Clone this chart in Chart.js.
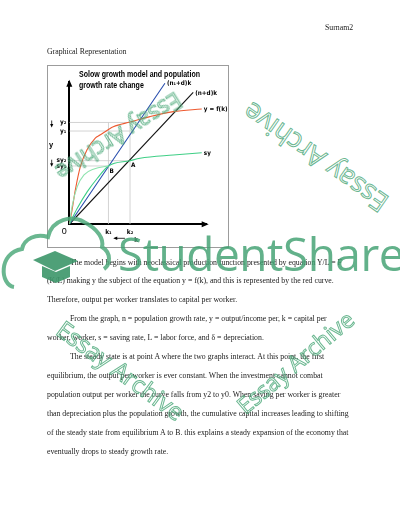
<!DOCTYPE html>
<html>
<head>
<meta charset="utf-8">
<script src="https://cdn.jsdelivr.net/npm/chart.js@4.4.1/dist/chart.umd.min.js"></script>
<style>
  html, body { margin: 0; padding: 0; background: #fff; }
  #page { position: relative; width: 400px; height: 517px; overflow: hidden; background: #fff; }
  .t { position: absolute; left: 47px; font-family: 'Liberation Serif', 'DejaVu Serif', serif; font-size: 7.8px; line-height: 10px; color: #1a1a1a; white-space: nowrap; will-change: transform; }
  .ind { left: 70px; }
  #frame { position: absolute; left: 47px; top: 65px; width: 182px; height: 183px; box-sizing: border-box; border: 1px solid #9c9c9c; }
  #chart { position: absolute; left: 47px; top: 65px; }
  .wm { position: absolute; z-index: 5; font-family: 'Open Sans', 'Liberation Sans', sans-serif; color: transparent; -webkit-text-stroke: 1px rgba(80,170,125,0.85); white-space: nowrap; }
  #brand { position: absolute; z-index: 5; left: 118px; top: 222px; font-family: 'Open Sans', 'Liberation Sans', sans-serif; font-size: 46px; color: rgba(64,160,112,0.82); white-space: nowrap; letter-spacing: -0.5px; }
  #logo { position: absolute; z-index: 5; left: 0; top: 195px; }
</style>
</head>
<body>
<div id="page">
  <div class="t" style="left:325px; top:23px;">Surnam2</div>
  <div class="t" style="top:47px;">Graphical Representation</div>

  <div id="frame"></div>
  <canvas id="chart" width="182" height="183" style="width:182px;height:183px;"></canvas>

  <div class="t ind" style="top:257.5px;">The model begins with neoclassical production function presented by equation Y/L = F</div>
  <div class="t" style="top:276.4px;">(K/L) making y the subject of the equation y = f(k), and this is represented by the red curve.</div>
  <div class="t" style="top:295.3px;">Therefore, output per worker translates to capital per worker.</div>
  <div class="t ind" style="top:314.2px;">From the graph, n = population growth rate, y = output/income per, k = capital per</div>
  <div class="t" style="top:333.1px;">worker, worker, s = saving rate, L = labor force, and δ = depreciation.</div>
  <div class="t ind" style="top:352px;">The steady state is at point A where the two graphs interact. At this point, the first</div>
  <div class="t" style="top:370.9px;">equilibrium, the output per worker is ever constant. When the investment cannot combat</div>
  <div class="t" style="top:389.8px;">population output per worker the curve falls from y2 to y0. When saving per worker is greater</div>
  <div class="t" style="top:408.7px;">than depreciation plus the population growth, the cumulative capital increases leading to shifting</div>
  <div class="t" style="top:427.6px;">of the steady state from equilibrium A to B. this explains a steady expansion of the economy that</div>
  <div class="t" style="top:446.5px;">eventually drops to steady growth rate.</div>

  <!-- watermarks -->
  <div class="wm" style="left:119px; top:137px; font-size:23px; transform: translate(-50%,-50%) rotate(148deg);">Essay Archive</div>
  <div class="wm" style="left:315px; top:158px; font-size:27px; transform: translate(-50%,-50%) rotate(215deg);">Essay Archive</div>
  <div class="wm" style="left:121px; top:370px; font-size:24px; transform: translate(-50%,-50%) rotate(36deg);">Essay Archive</div>
  <div class="wm" style="left:295px; top:362px; font-size:23px; transform: translate(-50%,-50%) rotate(-40deg);">Essay Archive</div>
  <svg id="logo" width="130" height="100" viewBox="0 0 130 100">
    <path d="M14 92 C0 90 -2 58 22 54 C24 44 36 38 48 42 C52 24 72 20 84 27 C98 34 104 44 102 52 C112 58 110 70 104 74"
          fill="none" stroke="rgba(80,170,125,0.85)" stroke-width="4"/>
    <path d="M33 65 L55 56 L78 66 L55 76 Z" fill="rgba(60,150,105,0.9)"/>
    <path d="M42 71 L42 82 L56 88 L70 82 L70 71 L56 77 Z" fill="rgba(60,150,105,0.9)"/>
  </svg>
  <div id="brand">StudentShare</div>
</div>

<script>
// capital per worker (k) and the curves
var fkK = [0, 0.20, 0.44, 0.80, 1.29, 1.89, 2.23, 2.85, 3.20, 4.42, 5.87, 7.57, 9.64];
var fkY = [0, 1.00, 2.41, 4.02, 5.22, 6.05, 6.26, 6.65, 6.84, 7.17, 7.55, 7.90, 8.09];

var syK = [0, 0.58, 1.31, 2.04, 2.85, 4.42, 5.15, 7.57, 9.64];
var syY = [0, 1.12, 2.29, 3.23, 4.09, 4.46, 4.63, 4.86, 5.02];

var sy0K = [0, 0.22, 0.58, 1.07, 1.80, 2.85];
var sy0Y = [0, 1.35, 2.64, 3.46, 3.88, 4.09];

var n1dK = [0, 6.96];
var n1dY = [0, 9.89];

var ndK = [0, 9.02];
var ndY = [0, 9.25];

// tick marks on the axes
var tickK = [2.85, 4.42];
var tickKLabels = ['k\u2081', 'k\u2082'];
var tickY = [7.14, 6.54, 4.46, 4.09];
var tickYLabels = ['y\u2082', 'y\u2081', 'sy\u2082', 'sy\u2081'];

function pts(xs, ys) {
    return xs.map(function(x, i) { return { x: x, y: ys[i] }; });
}

function guide(x0, y0, x1, y1) {
    return {
        data: [{ x: x0, y: y0 }, { x: x1, y: y1 }],
        showLine: true, borderColor: '#c8c8c8', borderWidth: 0.8, pointRadius: 0, order: 10
    };
}

var sans = "'Liberation Sans', 'DejaVu Sans', sans-serif";
var tickFont = "'DejaVu Sans Condensed', 'DejaVu Sans', sans-serif";

var guides = [
    guide(0, tickY[0], tickK[1], tickY[0]),
    guide(0, tickY[1], tickK[1], tickY[1]),
    guide(0, tickY[2], tickK[1], tickY[2]),
    guide(0, tickY[3], tickK[0], tickY[3]),
    guide(tickK[0], 0, tickK[0], tickY[0]),
    guide(tickK[1], 0, tickK[1], tickY[0])
];

var curve = function(data, color, label) {
    return {
        label: label, data: data, showLine: true, borderColor: color, borderWidth: 1.1,
        pointRadius: 0, cubicInterpolationMode: 'monotone', order: 1
    };
};

var datasets = guides.concat([
    curve(pts(sy0K, sy0Y), '#8ee3ae', ''),
    curve(pts(syK, syY), '#3fcf86', 'sy'),
    curve(pts(fkK, fkY), '#ee5a30', 'y = f(k)'),
    curve(pts(n1dK, n1dY), '#2a4fae', '(n\u2081+d)k'),
    curve(pts(ndK, ndY), '#111111', '(n+d)k')
]);

function arrowHead(ctx, x, y, dir) {
    ctx.beginPath();
    if (dir === 'up') {
        ctx.moveTo(x, y); ctx.lineTo(x - 3, y + 7); ctx.lineTo(x + 3, y + 7);
    } else if (dir === 'right') {
        ctx.moveTo(x, y); ctx.lineTo(x - 7, y - 3); ctx.lineTo(x - 7, y + 3);
    } else if (dir === 'left') {
        ctx.moveTo(x, y); ctx.lineTo(x + 4, y - 1.8); ctx.lineTo(x + 4, y + 1.8);
    } else {
        ctx.moveTo(x, y); ctx.lineTo(x - 1.6, y - 3.5); ctx.lineTo(x + 1.6, y - 3.5);
    }
    ctx.closePath();
    ctx.fill();
}

var decorations = {
    id: 'decorations',
    afterDraw: function(chart) {
        var ctx = chart.ctx, xs = chart.scales.x, ys = chart.scales.y, area = chart.chartArea;
        ctx.save();
        ctx.fillStyle = '#000';
        ctx.strokeStyle = '#000';

        // axis arrow heads
        arrowHead(ctx, area.left, area.top - 2, 'up');
        arrowHead(ctx, area.right + 2, area.bottom, 'right');

        // title, squeezed to the width it has in the picture
        ctx.font = 'bold 9.5px ' + sans;
        ctx.textBaseline = 'middle';
        ctx.textAlign = 'left';
        var line1 = 'Solow growth model and population';
        var squeeze = 121 / ctx.measureText(line1).width;
        ctx.save();
        ctx.translate(32, 0);
        ctx.scale(squeeze, 1);
        ctx.fillText(line1, 0, 9);
        ctx.fillText('growth rate change', 0, 20);
        ctx.restore();

        // curve end labels
        ctx.font = 'bold 6.3px ' + tickFont;
        chart.data.datasets.forEach(function(ds) {
            if (!ds.label) return;
            var last = ds.data[ds.data.length - 1];
            ctx.fillText(ds.label, xs.getPixelForValue(last.x) + 2, ys.getPixelForValue(last.y) + 0.5);
        });

        // steady state points
        ctx.fillText('B', xs.getPixelForValue(tickK[0]) + 1, ys.getPixelForValue(tickY[3]) + 5);
        ctx.fillText('A', xs.getPixelForValue(tickK[1]) + 1, ys.getPixelForValue(tickY[2]) + 5);

        // origin and axis names
        ctx.font = '9px ' + sans;
        ctx.textAlign = 'center';
        ctx.fillText('0', area.left - 5, area.bottom + 7.5);
        ctx.font = 'bold 7.5px ' + sans;
        ctx.fillText('y', 4, ys.getPixelForValue(5.56));
        ctx.font = 'bold 6.5px ' + sans;
        ctx.fillText('k', xs.getPixelForValue(4.86), area.bottom + 16);

        // small shift arrows
        ctx.lineWidth = 0.8;
        ctx.beginPath();
        ctx.moveTo(xs.getPixelForValue(4.05), area.bottom + 14);
        ctx.lineTo(xs.getPixelForValue(3.3), area.bottom + 14);
        ctx.stroke();
        arrowHead(ctx, xs.getPixelForValue(3.2), area.bottom + 14, 'left');

        [ys.getPixelForValue(tickY[0]) - 2, ys.getPixelForValue(tickY[2]) - 1].forEach(function(py) {
            ctx.beginPath();
            ctx.moveTo(4.7, py);
            ctx.lineTo(4.7, py + 4);
            ctx.stroke();
            arrowHead(ctx, 4.7, py + 7, 'down');
        });
        ctx.restore();
    }
};

new Chart(document.getElementById('chart'), {
    type: 'scatter',
    data: { datasets: datasets },
    options: {
        responsive: false,
        animation: false,
        layout: { padding: { top: 16.7, right: 22.3, left: 0, bottom: 0 } },
        plugins: { legend: { display: false }, tooltip: { enabled: false }, title: { display: false } },
        scales: {
            x: {
                type: 'linear', min: 0, max: 10,
                afterBuildTicks: function(s) { s.ticks = tickK.map(function(v) { return { value: v }; }); },
                afterFit: function(s) { s.height = 23.7; },
                ticks: {
                    autoSkip: false, maxRotation: 0, padding: 4, color: '#000',
                    font: { family: tickFont, size: 6.5, weight: 'bold' },
                    callback: function(v) { return tickKLabels[tickK.indexOf(v)]; }
                },
                grid: { display: false, drawTicks: false },
                border: { display: true, color: '#000', width: 2 }
            },
            y: {
                type: 'linear', min: 0, max: 10,
                afterBuildTicks: function(s) { s.ticks = tickY.map(function(v) { return { value: v }; }); },
                afterFit: function(s) { s.width = 22.3; },
                ticks: {
                    autoSkip: false, padding: 3, color: '#000',
                    font: { family: tickFont, size: 6.5, weight: 'bold' },
                    callback: function(v) { return tickYLabels[tickY.indexOf(v)]; }
                },
                grid: { display: false, drawTicks: false },
                border: { display: true, color: '#000', width: 2 }
            }
        }
    },
    plugins: [decorations]
});
</script>
</body>
</html>
